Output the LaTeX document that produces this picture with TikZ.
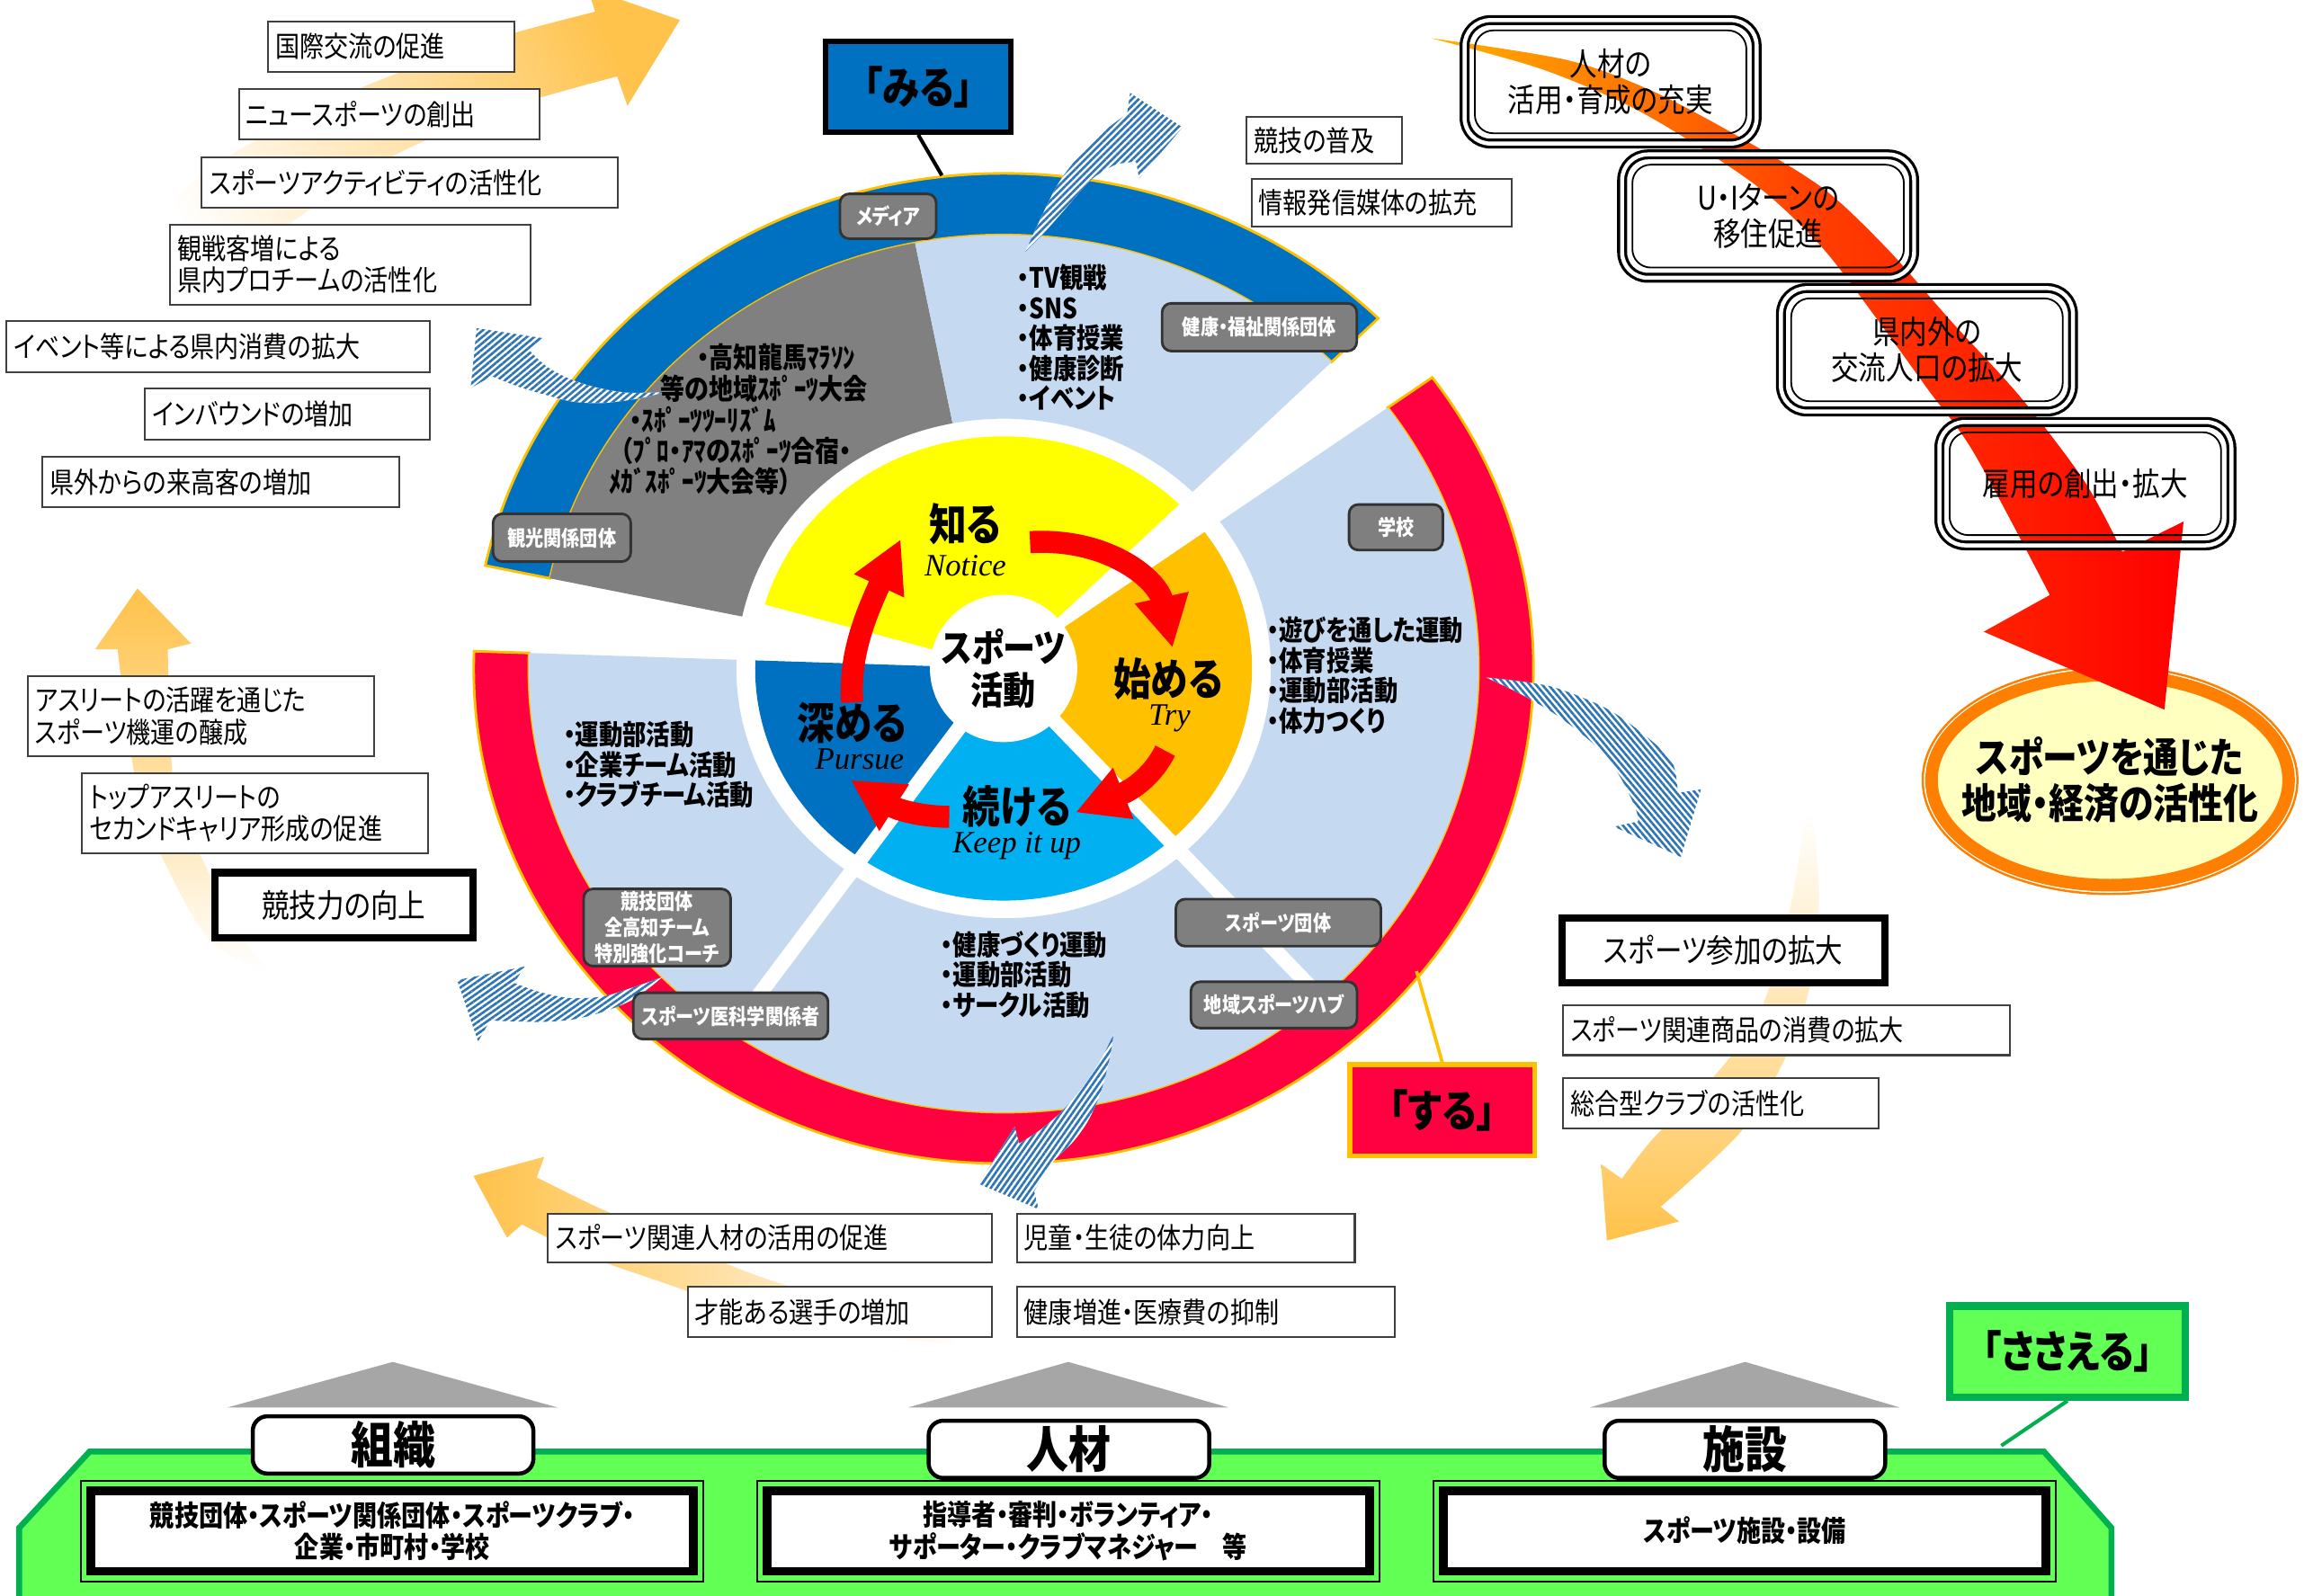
\documentclass[tikz,border=0pt]{standalone}
\usepackage{fontspec}
\setmainfont{Noto Sans CJK JP}[FakeStretch=0.85,RawFeature={+palt}]
\newfontfamily\handfont{Liberation Serif}
\usetikzlibrary{arrows.meta,patterns.meta,calc,shapes.geometric}
\newcommand\fsz[2]{\fontsize{#1}{#2}\selectfont}
\definecolor{mblue}{HTML}{0070C0}
\definecolor{lblue}{HTML}{C5D9F1}
\definecolor{mgray}{HTML}{808080}
\definecolor{sred}{HTML}{FF0041}
\definecolor{gold}{HTML}{FFC000}
\definecolor{oarr}{HTML}{FFC24A}
\definecolor{myellow}{HTML}{FFFF00}
\definecolor{mcyan}{HTML}{00B0F0}
\definecolor{lgreen}{HTML}{62FF55}
\definecolor{dgreen}{HTML}{00B050}
\definecolor{stripe}{HTML}{2E75B6}
\definecolor{roof}{HTML}{A6A6A6}
\definecolor{lyellow}{HTML}{FFFFC0}
\definecolor{eorange}{HTML}{FF8000}
\definecolor{labgray}{HTML}{7F7F7F}
\definecolor{arrA}{HTML}{FFB300}
\definecolor{arrB}{HTML}{FF4000}
\begin{document}
\begin{tikzpicture}[x=0.4pt,y=-0.4pt,
 tbox/.style={draw=black!75, fill=white, line width=0.5pt, align=left, inner xsep=2pt, inner ysep=0pt, font=\fsz{7.8}{8.6}},
 kbox/.style={draw=black, fill=white, line width=2pt, align=center, inner sep=0pt, font=\fsz{8.8}{10}},
 lab/.style={rounded corners=2.5pt, fill=labgray, draw=black!80, line width=0.7pt, text=white, align=center, inner sep=0pt, font=\bfseries\fsz{5.8}{7}},
 bul/.style={anchor=west, align=left, inner sep=0pt, font=\bfseries\fsz{7.6}{8.2}},
 gtxt/.style={anchor=west, inner sep=0pt, font=\bfseries\fsz{7.8}{8}},
 big/.style={inner sep=0pt, font=\bfseries\fsz{12}{13}},
 eng/.style={inner sep=0pt, font=\handfont\itshape\fsz{8.5}{9}},
 tri/.style={draw, line width=0.8pt, double=white, double distance=1.1pt, rounded corners=7pt, align=center, inner sep=0pt, minimum width=79.5pt, minimum height=33.6pt, font=\fsz{8.8}{9.8}},
 triin/.style={line width=0.45pt, rounded corners=5pt},
 redarr/.style={draw=red, line width=6pt, -{Triangle[width=14pt,length=14pt]}},
 hdr/.style={draw=black, line width=1.1pt, fill=white, rounded corners=4pt, minimum width=76.4pt, minimum height=15.6pt, inner sep=0pt, font=\bfseries\fsz{13.5}{14}},
 cbox/.style={draw=black, line width=2.4pt, fill=white, minimum width=164pt, minimum height=22pt, inner sep=0pt, align=center, font=\bfseries\fsz{7.8}{8.6}},
 cout/.style={line width=0.5pt},
 tag/.style={line width=1.4pt, minimum width=50.3pt, minimum height=24.8pt, inner sep=0pt, font=\bfseries\fsz{12}{13}},
 striped/.style={fill=white, postaction={pattern={Lines[angle=#1,distance=1.3pt,line width=0.65pt]}, pattern color=stripe}},
]
\path[use as bounding box, fill=white] (0,0) rectangle (1568,1086);

% ---------- orange background arrows ----------
\shade[top color=oarr, bottom color=white, shading angle=-63, middle color=oarr!45]
 (462.7,13.6) -- (427,72) -- (420,52) -- plot[smooth] coordinates {(420,52) (341,74.7) (267,106.4) (207.6,144.9) (148.3,185.6) (97.9,208.3)}
 -- plot[smooth] coordinates {(89,181) (118.6,135.8) (163.1,101.9) (237.3,63.4) (326.3,29.4) (405,8)} -- (400,-8) -- cycle;
\shade[top color=oarr, bottom color=white, middle color=oarr!50]
 (93.5,400.6) -- (130,438) -- (114.2,442) -- plot[smooth] coordinates {(114.2,442) (118.6,537.7) (139.4,588.5) (166,639.2) (184,662)}
 -- plot[smooth] coordinates {(176,660) (142,639.2) (112.7,588.5) (93.4,537.7) (80,442)} -- (64.7,442) -- cycle;
\shade[left color=oarr, right color=white, middle color=oarr!50]
 (322.2,800.4) -- (370.4,787.4) -- (365.3,801.4) -- plot[smooth] coordinates {(365.3,801.4) (405.9,821.4) (456.7,843.4) (507.4,865.4) (558.1,881.4) (608.9,889.4) (654.5,895.4)}
 -- plot[smooth] coordinates {(648,915) (583.5,907.4) (507.4,891.4) (446.5,871.4) (395.8,853.4) (355.2,833.4)} -- (345,842.4) -- cycle;
\shade[top color=white, bottom color=oarr, middle color=oarr!45]
 (1093.6,844.4) -- (1089.6,792.4) -- (1103.7,802.4) -- plot[smooth] coordinates {(1103.7,802.4) (1125,775) (1160,740) (1192,700) (1208,660) (1220,610) (1229,552)}
 -- plot[smooth] coordinates {(1233,552) (1238,610) (1232,670) (1215,720) (1185,770) (1130.2,821.4)} -- (1142.7,831.4) -- cycle;

% ---------- goal ellipse and big red arrow ----------
\filldraw[fill=lyellow, draw=eorange, line width=3.4pt] (1436,531) ellipse [x radius=48.6pt, y radius=28.6pt];
\draw[eorange, line width=0.6pt] (1436,531) ellipse [x radius=51pt, y radius=31pt];
\node[inner sep=0pt, align=center, font=\bfseries\fsz{11.2}{12.4}] (goal) at (1436,531) {スポーツを通じた\\地域・経済の活性化};
\shade[left color=arrA, right color=red, middle color=arrB]
 plot[smooth] coordinates {(974,26) (1067,41) (1126.3,62.8) (1185.6,94.3) (1240.9,128.4) (1284.4,169.4) (1327.8,218.6) (1375.2,270.5) (1418.7,327.8) (1444.4,375.6)}
 -- (1486,355) -- (1473,483) -- (1350,430) -- (1395,405)
 -- plot[smooth] coordinates {(1395,405) (1343.6,308.7) (1312,265) (1276.4,215.8) (1240.9,169.4) (1201.4,131.1) (1154,98.4) (1106.6,71) (1047.3,46.4) (974,26)} -- cycle;

\node[tri] (b1) at (1096.1,55.7) {人材の\\活用・育成の充実};
\node[tri] (b2) at (1203.3,147.1) {U・Iターンの\\移住促進};
\node[tri] (b3) at (1311.4,238.1) {県内外の\\交流人口の拡大};
\node[tri] (b4) at (1419.2,329.2) {雇用の創出・拡大};
\foreach \b in {b1,b2,b3,b4}
 \draw[triin] ($(\b.north west)+(3.2pt,-3.2pt)$) rectangle ($(\b.south east)+(-3.2pt,3.2pt)$);

% ---------- wheel ----------
\begin{scope}[shift={(683,455)}, xscale=1.07, yscale=-1]
\filldraw[fill=mblue, draw=gold, line width=0.7pt] (45:337) arc[start angle=45, end angle=168, radius=337] -- (168:295) arc[start angle=168, end angle=45, radius=295] -- cycle;
\fill[mgray] (101:295) arc[start angle=101, end angle=168, radius=295] -- (168:170) arc[start angle=168, end angle=101, radius=170] -- cycle;
\fill[lblue] (45:295) arc[start angle=45, end angle=101, radius=295] -- (101:170) arc[start angle=101, end angle=45, radius=170] -- cycle;
\filldraw[fill=sred, draw=gold, line width=0.7pt] (178:337) arc[start angle=178, end angle=396, radius=337] -- (396:302) arc[start angle=396, end angle=178, radius=302] -- cycle;
\fill[lblue] (178:302) arc[start angle=178, end angle=396, radius=302] -- (396:170) arc[start angle=396, end angle=178, radius=170] -- cycle;
\fill[myellow] (0,0) -- (45:158) arc[start angle=45, end angle=164, radius=158] -- cycle;
\fill[mblue] (0,0) -- (178:158) arc[start angle=178, end angle=235, radius=158] -- cycle;
\fill[mcyan] (0,0) -- (235:158) arc[start angle=235, end angle=312, radius=158] -- cycle;
\fill[gold] (0,0) -- (312:158) arc[start angle=312, end angle=396, radius=158] -- cycle;
\draw[white, line width=4pt] (235:45) -- (235:303) (312:45) -- (312:303);
\end{scope}

% ---------- striped arrows ----------
\path[striped=45] plot[smooth] coordinates {(697.7,171.4) (718.1,128.5) (734.4,106.1) (750.7,89.8) (767,77.5)} -- (769.1,63.2) -- (804.8,86.7) -- (775.2,121.4) -- (773.2,110.2)
 -- plot[smooth] coordinates {(773.2,110.2) (758.9,112.2) (742.5,122.4) (726.2,140.8) (709.9,159.1) (697.7,171.4)} -- cycle;
\path[striped=40] (324.4,223.4) -- (369.2,230.1) -- (360,238.3) -- plot[smooth] coordinates {(360,238.3) (371.3,248.9) (385.6,257) (403.9,263.2) (426.4,267.2) (452.9,266.8)}
 -- plot[smooth] coordinates {(452.9,266.8) (434.5,271.3) (410,274.4) (389.6,273.4) (373.3,269.3) (352.9,263.2) (334.6,256)} -- (320.3,264.2) -- cycle;
\path[striped=35] (311.1,667.1) -- (357,657.9) -- (349.9,669.1) -- plot[smooth] coordinates {(349.9,669.1) (367.2,675.2) (387.6,679.3) (410,678.3) (430.4,672.2) (450.8,665.1)}
 -- plot[smooth] coordinates {(450.8,665.1) (432.5,679.3) (414.1,687.5) (391.7,693.6) (367.2,695.6) (333.5,694.6)} -- (325.4,708.9) -- cycle;
\path[striped=55] plot[smooth] coordinates {(757.9,703.8) (754.8,722.2) (748.7,744.6) (740.5,762.9) (730.3,777.2) (716,791.5) (703.8,810.9)} -- (706.9,823.1) -- (666.1,805.8) -- (690.5,767) -- (693.6,778.3)
 -- plot[smooth] coordinates {(693.6,778.3) (707.9,769.1) (722.2,756.8) (736.4,740.5) (748.7,722.2) (757.9,703.8)} -- cycle;
\path[striped=-50] plot[smooth] coordinates {(1011.3,461.1) (1054.8,467.1) (1092.1,481.6) (1117,498.6) (1137.7,518) (1141.8,539.7)} -- (1157.6,537.3) -- (1143.9,583.3) -- (1098.3,562.7) -- (1114.9,559.1)
 -- plot[smooth] coordinates {(1114.9,559.1) (1112.8,549.4) (1100.4,525.2) (1083.8,505.8) (1058.9,486.5) (1034.1,472) (1011.3,461.1)} -- cycle;

% ---------- centre ----------
\node[circle, fill=white, minimum size=40pt, inner sep=0pt, align=center, font=\bfseries\fsz{10.4}{11.5}] (core) at (683,455) {スポーツ\\活動};
\node[big] (shiru) at (657,357) {知る};
\node[eng] (notice) at (657,385) {Notice};
\node[big] (hajimeru) at (795,462) {始める};
\node[eng] (try) at (796,489) {Try};
\node[big] (fukameru) at (580,492) {深める};
\node[eng] (pursue) at (585,517) {Pursue};
\node[big] (tsuzukeru) at (692,549) {続ける};
\node[eng] (keep) at (692,576) {Keep it up};
\draw[redarr] (701,369) .. controls (755,366) and (788,395) .. (798,441);
\draw[redarr] (793,511) .. controls (785,527) and (772,537) .. (732,553);
\draw[redarr] (646,556) .. controls (630,556) and (612,552) .. (579,531);
\draw[redarr] (580,478) .. controls (578,450) and (586,425) .. (613,367);

% ---------- wheel texts ----------
\node[bul] (tvlist) at (692,229.5) {・TV観戦\\・SNS\\・体育授業\\・健康診断\\・イベント};
\node[bul] (asobi) at (862,459.8) {・遊びを通した運動\\・体育授業\\・運動部活動\\・体力つくり};
\node[bul] (bukatsu) at (383,520.6) {・運動部活動\\・企業チーム活動\\・クラブチーム活動};
\node[bul] (kenko) at (640,663.5) {・健康づくり運動\\・運動部活動\\・サークル活動};
\node[gtxt] (g1) at (474,243) {・高知龍馬ﾏﾗｿﾝ};
\node[gtxt] (g2) at (449,264.5) {等の地域ｽﾎﾟｰﾂ大会};
\node[gtxt] (g3) at (428,285.5) {・ｽﾎﾟｰﾂﾂｰﾘｽﾞﾑ};
\node[gtxt] (g4) at (422,306.6) {（ﾌﾟﾛ・ｱﾏのｽﾎﾟｰﾂ合宿・};
\node[gtxt] (g5) at (414,327.4) {ﾒｶﾞｽﾎﾟｰﾂ大会等）};

% ---------- grey labels ----------
\node[lab, minimum width=26.2pt, minimum height=12.2pt] (media) at (604.4,147.2) {メディア};
\node[lab, minimum width=53pt, minimum height=13pt] (fukushi) at (857.1,222.7) {健康・福祉関係団体};
\node[lab, minimum width=37.5pt, minimum height=13pt] (kanko) at (382.4,366) {観光関係団体};
\node[lab, minimum width=25.5pt, minimum height=12.4pt] (gakko) at (950,358.9) {学校};
\node[lab, minimum width=40pt, minimum height=21pt] (kyogi) at (447.2,631.3) {競技団体\\全高知チーム\\特別強化コーチ};
\node[lab, minimum width=53pt, minimum height=12.6pt] (ikagaku) at (497.3,691.5) {スポーツ医科学関係者};
\node[lab, minimum width=55.8pt, minimum height=12.8pt] (sdantai) at (870,628) {スポーツ団体};
\node[lab, minimum width=45.2pt, minimum height=12.6pt] (hub) at (867,684) {地域スポーツハブ};

% ---------- tags ----------
\node[tag, draw=black, fill=mblue] (miru) at (624.9,59) {「みる」};
\coordinate (miruring) at (641,119.4);
\draw[line width=1pt] (miru.south) -- (miruring);
\node[tag, draw=gold, fill=sred] (suru) at (981.5,755.8) {「する」};
\coordinate (suruhim) at (964,661);
\draw[gold, line width=0.9pt] (suru.north) -- (suruhim);

% ---------- left / side text boxes ----------
\node[tbox, minimum width=67pt, text width=63pt, minimum height=13.6pt] (t1) at (266.2,31.7) {国際交流の促進};
\node[tbox, minimum width=81.9pt, text width=77.9pt, minimum height=13.7pt] (t2) at (264.9,77.9) {ニュースポーツの創出};
\node[tbox, minimum width=113.3pt, text width=109.3pt, minimum height=13.8pt] (t3) at (279,124.2) {スポーツアクティビティの活性化};
\node[tbox, minimum width=98.2pt, text width=94.2pt, minimum height=21.8pt] (t4) at (238.5,180) {観戦客増による\\県内プロチームの活性化};
\node[tbox, minimum width=115.4pt, text width=111.4pt, minimum height=14pt] (t5) at (148.5,236) {イベント等による県内消費の拡大};
\node[tbox, minimum width=77.5pt, text width=73.5pt, minimum height=14pt] (t6) at (195.4,281.9) {インバウンドの増加};
\node[tbox, minimum width=97.3pt, text width=93.3pt, minimum height=13.9pt] (t7) at (150.4,328) {県外からの来高客の増加};
\node[tbox, minimum width=94.2pt, text width=90.2pt, minimum height=21.8pt] (t8) at (136.8,487.5) {アスリートの活躍を通じた\\スポーツ機運の醸成};
\node[tbox, minimum width=94.2pt, text width=90.2pt, minimum height=21.7pt] (t9) at (173.6,553.6) {トップアスリートの\\セカンドキャリア形成の促進};
\node[kbox, minimum width=70.2pt, minimum height=17.7pt] (t10) at (234,616.1) {競技力の向上};
\node[tbox, minimum width=42.2pt, text width=38.2pt, minimum height=12.8pt] (t11) at (901.1,95.6) {競技の普及};
\node[tbox, minimum width=70.8pt, text width=66.8pt, minimum height=12.9pt] (t12) at (940.2,137.9) {情報発信媒体の拡充};
\node[kbox, minimum width=87.9pt, minimum height=17.7pt] (t13) at (1172.9,647) {スポーツ参加の拡大};
\node[tbox, minimum width=121.5pt, text width=117.5pt, minimum height=13.6pt] (t14) at (1215.8,701.2) {スポーツ関連商品の消費の拡大};
\node[tbox, minimum width=85.9pt, text width=81.9pt, minimum height=13.8pt] (t15) at (1171.2,751.1) {総合型クラブの活性化};
\node[tbox, minimum width=120.8pt, text width=116.8pt, minimum height=13.2pt] (t16) at (524,842.5) {スポーツ関連人材の活用の促進};
\node[tbox, minimum width=82.8pt, text width=78.8pt, minimum height=13.6pt] (t17) at (571.5,893) {才能ある選手の増加};
\node[tbox, minimum width=92pt, text width=88pt, minimum height=13.2pt] (t18) at (807,842.5) {児童・生徒の体力向上};
\node[tbox, minimum width=102.8pt, text width=98.8pt, minimum height=13.6pt] (t19) at (820.5,893) {健康増進・医療費の抑制};

% ---------- bottom platform ----------
\fill[roof] (154.8,958) -- (267.4,927) -- (379.5,958) -- cycle;
\fill[roof] (618,958) -- (727,927) -- (836,958) -- cycle;
\fill[roof] (1082,958) -- (1187.7,927) -- (1293,958) -- cycle;
\filldraw[fill=lgreen, draw=dgreen, line width=1.6pt] (13,1095) -- (13,1040) -- (61,988) -- (1391,988) -- (1437,1040) -- (1437,1095) -- cycle;
\node[hdr] (soshiki) at (267.5,983.5) {組織};
\node[hdr] (jinzai) at (727.5,986.5) {人材};
\node[hdr] (shisetsu) at (1187.5,986.5) {施設};
\node[cbox] (c1) at (267,1042) {競技団体・スポーツ関係団体・スポーツクラブ・\\企業・市町村・学校};
\node[cbox] (c2) at (727,1042) {指導者・審判・ボランティア・\\サポーター・クラブマネジャー　等};
\node[cbox] (c3) at (1187.5,1042) {スポーツ施設・設備};
\foreach \c in {c1,c2,c3}
 \draw[cout] ($(\c.north west)+(-1.5pt,1.5pt)$) rectangle ($(\c.south east)+(1.5pt,-1.5pt)$);
\node[tag, draw=dgreen, line width=2pt, fill=lgreen, minimum width=64pt] (sasaeru) at (1407,920) {「ささえる」};
\coordinate (sasaeruend) at (1362,984);
\draw[dgreen, line width=1pt] (sasaeru.south) -- (sasaeruend);
\end{tikzpicture}
\end{document}
